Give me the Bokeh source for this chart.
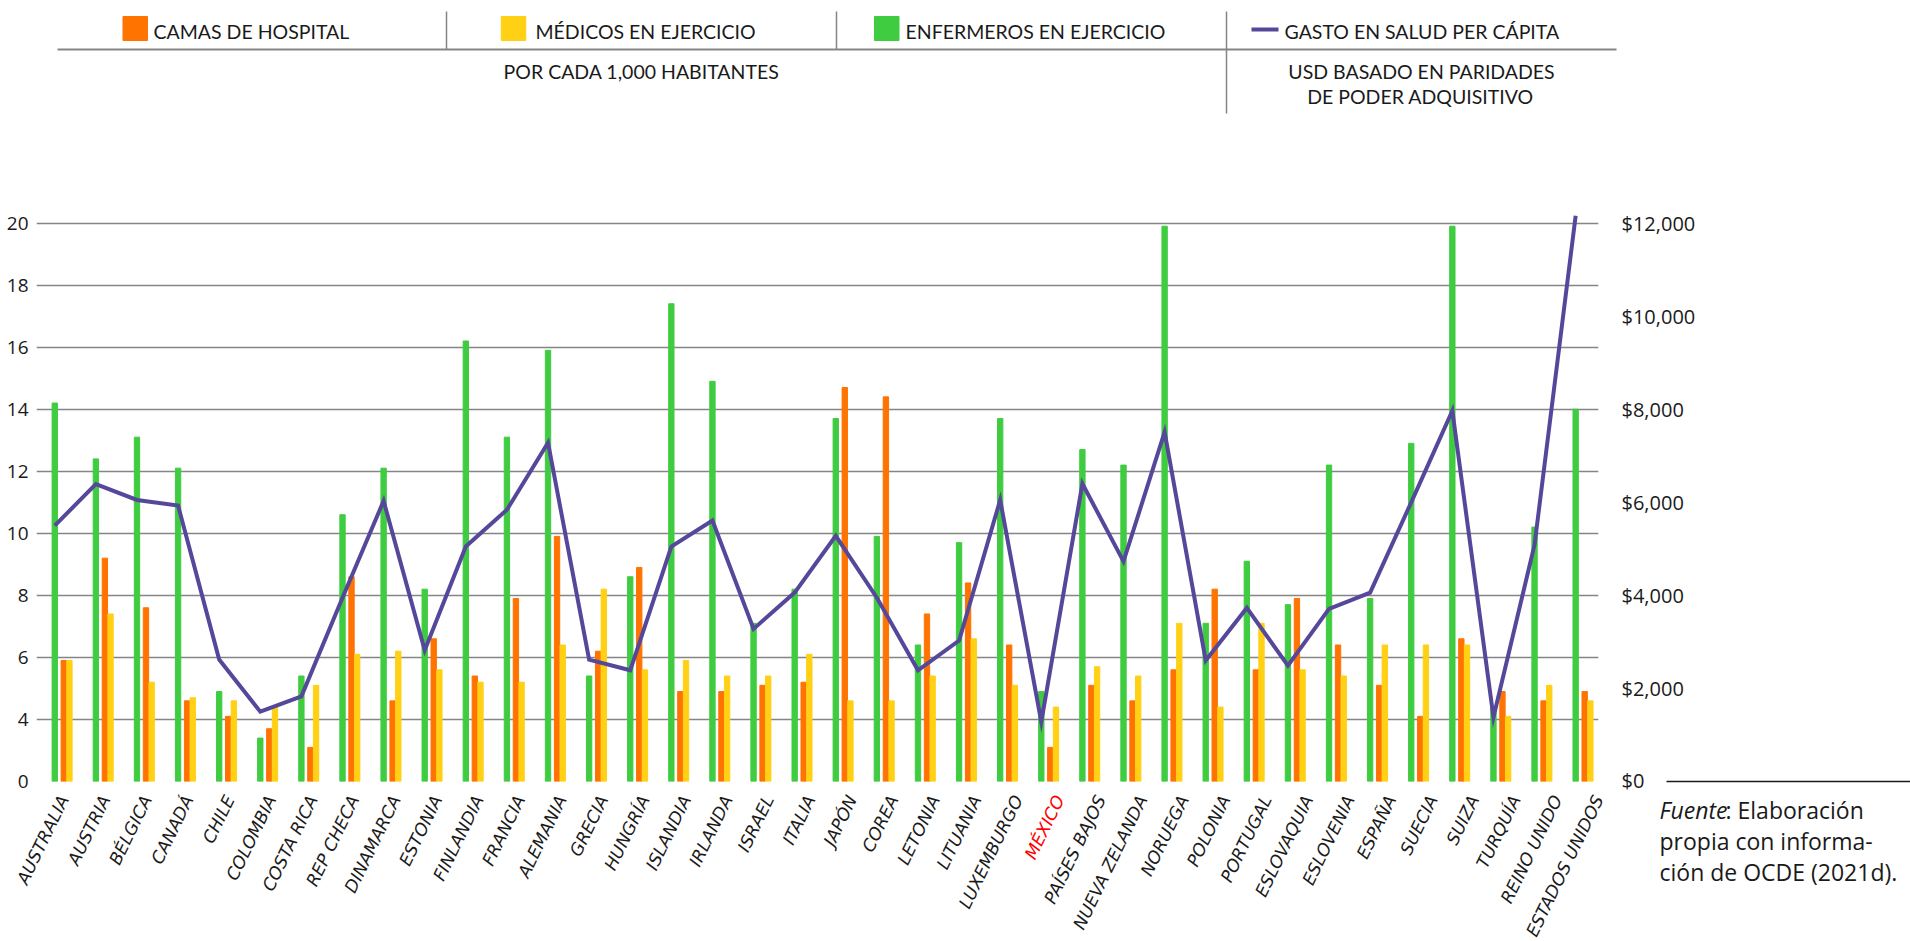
import numpy as np
from bokeh.plotting import figure
from bokeh.layouts import column, row
from bokeh.models import Range1d, LinearAxis, FixedTicker, NumeralTickFormatter
from bokeh.core.properties import value
from bokeh.embed import file_html
from bokeh.resources import INLINE

# ---------------- data ----------------
countries = ["AUSTRALIA", "AUSTRIA", "BÉLGICA", "CANADÁ", "CHILE", "COLOMBIA", "COSTA RICA",
             "REP CHECA", "DINAMARCA", "ESTONIA", "FINLANDIA", "FRANCIA", "ALEMANIA", "GRECIA",
             "HUNGRÍA", "ISLANDIA", "IRLANDA", "ISRAEL", "ITALIA", "JAPÓN", "COREA", "LETONIA",
             "LITUANIA", "LUXEMBURGO", "MÉXICO", "PAÍSES BAJOS", "NUEVA ZELANDA", "NORUEGA",
             "POLONIA", "PORTUGAL", "ESLOVAQUIA", "ESLOVENIA", "ESPAÑA", "SUECIA", "SUIZA",
             "TURQUÍA", "REINO UNIDO", "ESTADOS UNIDOS"]
# values in the units printed on the left axis
camas = [5.9, 9.2, 7.6, 4.6, 4.1, 3.7, 3.1, 8.6, 4.6, 6.6, 5.4, 7.9, 9.9, 6.2, 8.9, 4.9, 4.9,
         5.1, 5.2, 14.7, 14.4, 7.4, 8.4, 6.4, 3.1, 5.1, 4.6, 5.6, 8.2, 5.6, 7.9, 6.4, 5.1, 4.1,
         6.6, 4.9, 4.6, 4.9]
medicos = [5.9, 7.4, 5.2, 4.7, 4.6, 4.4, 5.1, 6.1, 6.2, 5.6, 5.2, 5.2, 6.4, 8.2, 5.6, 5.9, 5.4,
           5.4, 6.1, 4.6, 4.6, 5.4, 6.6, 5.1, 4.4, 5.7, 5.4, 7.1, 4.4, 7.1, 5.6, 5.4, 6.4, 6.4,
           6.4, 4.1, 5.1, 4.6]
enfermeros = [14.2, 12.4, 13.1, 12.1, 4.9, 3.4, 5.4, 10.6, 12.1, 8.2, 16.2, 13.1, 15.9, 5.4,
              8.6, 17.4, 14.9, 7.1, 8.2, 13.7, 9.9, 6.4, 9.7, 13.7, 4.9, 12.7, 12.2, 19.9, 7.1,
              9.1, 7.7, 12.2, 7.9, 12.9, 19.9, 4.4, 10.2, 14.0]
gasto = [5500, 6390, 6050, 5930, 2620, 1500, 1830, 3950, 6030, 2820, 5050, 5840, 7280, 2620,
         2390, 5050, 5610, 3280, 4060, 5280, 3950, 2390, 3030, 6050, 1280, 6400, 4730, 7510,
         2600, 3730, 2490, 3710, 4060, 6000, 7970, 1380, 5090, 12160]

left_ticks = [2, 4, 6, 8, 10, 12, 14, 16, 18, 20]
left_tick_labels = ["0", "4", "6", "8", "10", "12", "14", "16", "18", "20"]
right_ticks = [0, 2000, 4000, 6000, 8000, 10000, 12000]

legend_labels = ["CAMAS DE HOSPITAL", "MÉDICOS EN EJERCICIO", "ENFERMEROS EN EJERCICIO",
                 "GASTO EN SALUD PER CÁPITA"]
sub_left = "POR CADA 1,000 HABITANTES"
sub_right = ["USD BASADO EN PARIDADES", "DE PODER ADQUISITIVO"]
note_lines = ["propia con informa-", "ción de OCDE (2021d)."]

# ---------------- styling / layout (page pixels) ----------------
GREEN, ORANGE, YELLOW, PURPLE = "#3fcc40", "#ff7300", "#ffd014", "#55489b"
GRID = "#858585"
INK = "#1a1a1a"
HEAD_FONT = "Lato"
NOTE_FONT = "Open Sans"

W = 1910
HEAD_H = 120
MAIN_TOP, MAIN_BOT = 120, 793
TOTAL_H = 940
FL, FT = 36, 204            # plot frame left / top
FW, FB = 1564, 781          # frame width / bottom
FR = FL + FW
n = len(countries)
pitch = FW / n
x_start = -(61.7 - FL) / pitch
x_end = x_start + n
y_start, y_end = 2.0, 20.6
usd_end = (y_end - y_start) / 18.0 * 12000


def xd(px):
    """page x pixel -> category axis units"""
    return x_start + (px - FL) / pitch


def clean(fig):
    fig.outline_line_color = None
    fig.background_fill_color = None
    fig.border_fill_color = "white"
    return fig


# ---------------- header ----------------
hd = clean(figure(width=W, height=HEAD_H, output_backend="svg", toolbar_location=None,
                  x_range=Range1d(0, W), y_range=Range1d(HEAD_H, 0),
                  min_border_left=0, min_border_right=0, min_border_top=0,
                  min_border_bottom=0))
hd.axis.visible = False
hd.grid.visible = False
hd.segment(x0=[57, 446, 836, 1226], y0=[49, 11, 11, 11], x1=[1616, 446, 836, 1226],
           y1=[49, 49, 49, 113], line_color=GRID, line_width=[2, 1.5, 1.5, 1.5])
hd.rect(x=[134.75, 513, 886.25], y=[28, 28, 28], width=24.5, height=24,
        color=[ORANGE, YELLOW, GREEN])
hd.segment(x0=[1251], y0=[29], x1=[1278], y1=[29], line_color=PURPLE, line_width=4)
hd.text(x=[153, 535, 905, 1284], y=[31] * 4, text=legend_labels, text_font=value(HEAD_FONT),
        text_font_size=value("19.5px"), text_baseline="middle", text_align="left",
        text_color=INK)
hd.text(x=[641, 1421, 1420], y=[70.5, 71, 96], text=[sub_left] + sub_right,
        text_font=value(HEAD_FONT), text_font_size=value("19.5px"), text_baseline="middle",
        text_align="center", text_color=INK)

# ---------------- main chart ----------------
p = clean(figure(width=W, height=MAIN_BOT - MAIN_TOP, output_backend="svg",
                 toolbar_location=None, x_range=Range1d(x_start, x_end),
                 y_range=Range1d(y_start, y_end), min_border_left=FL,
                 min_border_right=W - FR, min_border_top=FT - MAIN_TOP,
                 min_border_bottom=MAIN_BOT - FB))
p.xaxis.visible = False
p.xgrid.visible = False

yax = p.yaxis[0]
yax.ticker = FixedTicker(ticks=left_ticks)
yax.major_label_overrides = {t: l for t, l in zip(left_ticks, left_tick_labels)}
yax.axis_line_color = None
yax.major_tick_line_color = None
yax.minor_tick_line_color = None
yax.major_label_standoff = 2
yax.major_label_text_font = "Open Sans"
yax.major_label_text_font_size = "19px"
yax.major_label_text_color = INK

p.ygrid.ticker = FixedTicker(ticks=left_ticks)
p.ygrid.grid_line_color = GRID
p.ygrid.grid_line_width = 1.7

p.extra_y_ranges = {"usd": Range1d(0, usd_end)}
rax = LinearAxis(y_range_name="usd", ticker=FixedTicker(ticks=right_ticks),
                 formatter=NumeralTickFormatter(format="$0,0"))
rax.axis_line_color = None
rax.major_tick_line_color = None
rax.minor_tick_line_color = None
rax.major_label_standoff = 17
rax.major_label_text_font = "Open Sans"
rax.major_label_text_font_size = "20px"
rax.major_label_text_color = INK
p.add_layout(rax, "right")

# rule under the source note: the $0 tick of a second, label-less right axis
note_rule = LinearAxis(y_range_name="usd", ticker=FixedTicker(ticks=[0]),
                       major_label_overrides={0: ""}, major_label_text_font_size="0px",
                       major_label_standoff=0, axis_line_color=None,
                       minor_tick_line_color=None, major_tick_line_color=INK,
                       major_tick_line_width=1.5, major_tick_in=32, major_tick_out=212)
p.add_layout(note_rule, "right")

idx = np.arange(n)
bw = 0.13
p.vbar(x=idx - 0.18, top=enfermeros, bottom=y_start, width=bw, color=GREEN)
p.vbar(x=idx + 0.039, top=camas, bottom=y_start, width=bw, color=ORANGE)
p.vbar(x=idx + 0.177, top=medicos, bottom=y_start, width=bw, color=YELLOW)
p.line(x=idx - 0.18, y=gasto, y_range_name="usd", line_color=PURPLE, line_width=4,
       line_join="miter")

# ---------------- country names + source note ----------------
BH = TOTAL_H - MAIN_BOT
bt = clean(figure(width=W, height=BH, output_backend="svg", toolbar_location=None,
                  x_range=Range1d(xd(0), xd(W)), y_range=Range1d(BH, 0),
                  min_border_left=0, min_border_right=0, min_border_top=0,
                  min_border_bottom=0))
bt.axis.visible = False
bt.grid.visible = False
label_x = [xd(63.5 + 41.48 * i) for i in range(n)]
bt.text(x=label_x, y=[796 - MAIN_BOT] * n, text=countries, angle=64, angle_units="deg",
        text_align="right", text_baseline="middle",
        text_color=["#ff0000" if c == "MÉXICO" else INK for c in countries],
        text_font=value("DejaVu Sans"), text_font_style="italic",
        text_font_size=value("17.3px"))
nl = [809 - MAIN_BOT, 840 - MAIN_BOT, 871 - MAIN_BOT]
bt.text(x=[xd(1659)], y=[nl[0]], text=["Fuente"], text_font=value(NOTE_FONT),
        text_font_style="italic", text_font_size=value("23px"), text_baseline="middle",
        text_color=INK)
bt.text(x=[xd(1725), xd(1659), xd(1659)], y=nl, text=[": Elaboración"] + note_lines,
        text_font=value(NOTE_FONT), text_font_size=value("23px"), text_baseline="middle",
        text_color=INK)

layout = column(row(hd), p, row(bt), spacing=0)
open("out.html", "w").write(file_html(layout, INLINE))
